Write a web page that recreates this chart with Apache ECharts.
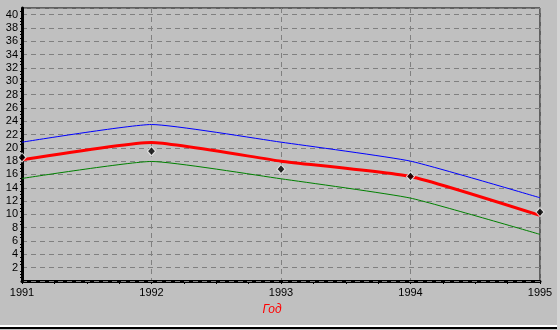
<!DOCTYPE html>
<html lang="ru">
<head>
    <meta charset="UTF-8">
    <title>Год</title>
    <script src="https://cdn.jsdelivr.net/npm/echarts@6/dist/echarts.min.js"></script>
    <style>
        body { margin: 0; background: #d4d4d4; }
        #wrap { width: 557px; height: 330px; background: #c0c0c0; position: relative; }
        #chart { width: 557px; height: 325px; }
        #edge { position: absolute; left: 0; top: 325px; width: 557px; height: 2px; background: #ffffff; }
        #edge2 { position: absolute; left: 0; top: 327px; width: 557px; height: 2px; background: #000000; }
    </style>
    <script>
        // годы и значения
        const years = [1991, 1992, 1993, 1994, 1995];
        const upperValues = [20.85, 23.5, 20.85, 18.0, 12.5];
        const mainValues = [18.2, 20.8, 18.0, 15.7, 9.85];
        const lowerValues = [15.4, 17.95, 15.35, 12.45, 7.0];
        const pointValues = [18.55, 19.5, 16.8, 15.7, 10.35];

        function pairs(xs, ys) {
            return xs.map(function (x, i) { return [x, ys[i]]; });
        }
    </script>
</head>
<body>
<div id="wrap">
    <div id="chart"></div>
    <div id="edge"></div>
    <div id="edge2"></div>
</div>
<script>
    let myChart = echarts.init(document.getElementById('chart'));
    let dashed = {show: true, lineStyle: {color: '#808080', type: [5, 4], width: 1}};
    let myOption = {
        animation: false,
        backgroundColor: '#c0c0c0',
        grid: {
            left: 22, right: 17, top: 8, bottom: 44,
            show: true, borderColor: '#000', borderWidth: 1
        },
        xAxis: {
            type: 'value',
            min: 1991, max: 1995, interval: 1,
            name: 'Год',
            nameLocation: 'middle',
            nameGap: 23,
            nameTextStyle: {
                color: '#ff0000', fontStyle: 'italic', fontSize: 12,
                fontFamily: 'Liberation Sans', padding: [0, 18, 0, 0]
            },
            axisLine: {show: true, lineStyle: {color: '#000', width: 3}},
            axisTick: {show: true, length: 3, lineStyle: {color: '#000'}},
            minorTick: {show: true, splitNumber: 4, length: 3, lineStyle: {color: '#000'}},
            axisLabel: {
                color: '#000', fontSize: 11, fontFamily: 'Liberation Sans', margin: 6,
                formatter: function (v) { return String(v); }
            },
            splitLine: dashed
        },
        yAxis: {
            type: 'value',
            min: 0, max: 41, interval: 2,
            z: 3,
            axisLine: {show: true, lineStyle: {color: '#000', width: 3}},
            axisTick: {show: false},
            minorTick: {show: true, splitNumber: 4, length: 2, lineStyle: {color: '#000'}},
            axisLabel: {
                color: '#000', fontSize: 11, fontFamily: 'Liberation Sans', margin: 4,
                formatter: function (v) { return (v === 0 || v % 2 !== 0) ? '' : String(v); }
            },
            splitLine: dashed
        },
        series: [
            {
                type: 'line', data: pairs(years, upperValues), smooth: 0.15,
                symbol: 'none', lineStyle: {color: '#0000ff', width: 1}
            },
            {
                type: 'line', data: pairs(years, lowerValues), smooth: 0.15,
                symbol: 'none', lineStyle: {color: '#008000', width: 1}
            },
            {
                type: 'line', data: pairs(years, mainValues), smooth: 0.15,
                symbol: 'none', lineStyle: {color: '#ff0000', width: 3}
            },
            {
                type: 'scatter', data: pairs(years, pointValues),
                symbol: 'diamond', symbolSize: [8, 9],
                itemStyle: {color: '#000', borderColor: '#fff', borderWidth: 1},
                z: 4
            }
        ]
    };
    myChart.setOption(myOption);
</script>
</body>
</html>
